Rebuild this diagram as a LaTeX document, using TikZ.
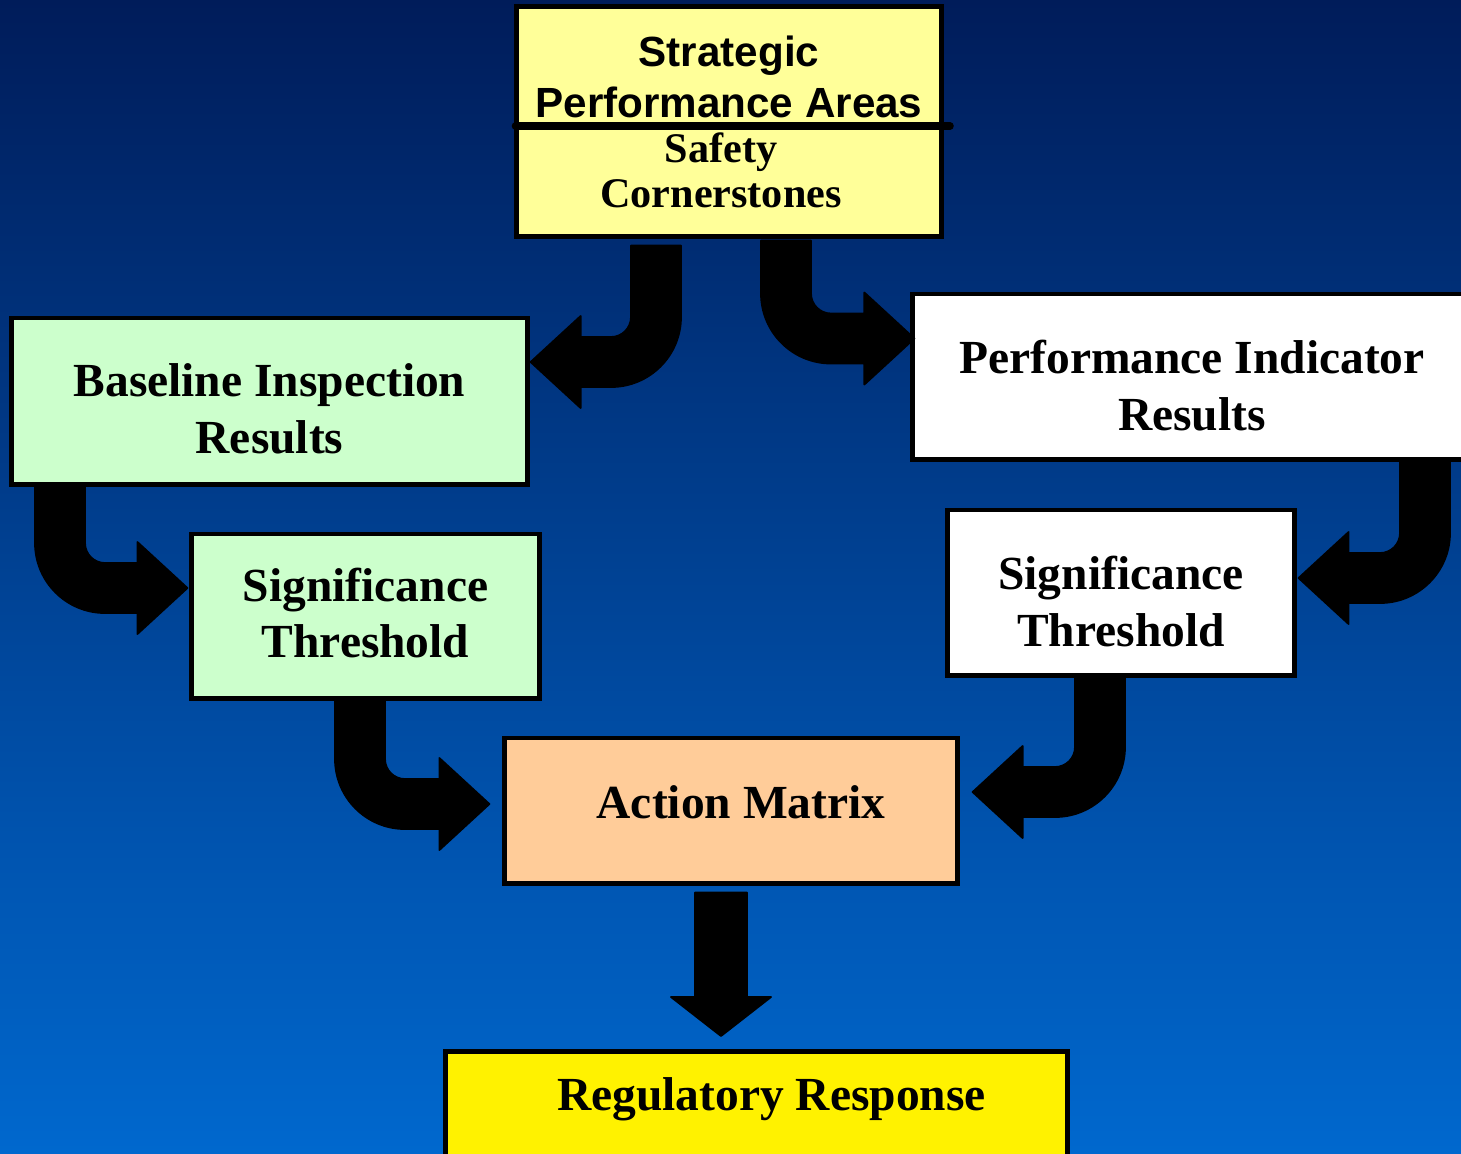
\documentclass[tikz,border=0pt]{standalone}
\usepackage{fontspec}
\setmainfont{Liberation Serif}
\newfontfamily\arialfont{Liberation Sans}
\usetikzlibrary{calc}
\definecolor{bgtop}{RGB}{0,28,90}
\definecolor{bgmid}{RGB}{0,80,165}
\definecolor{bgbot}{RGB}{0,104,206}
\definecolor{paleyellow}{RGB}{255,255,153}
\definecolor{palegreen}{RGB}{204,255,204}
\definecolor{peach}{RGB}{255,204,153}
\newcommand\shaftw{0.25cm}
\newcommand\headw{0.46cm}
\newcommand\headl{0.5cm}
\newcommand\rinner{0.2cm}
\newcommand\router{0.7cm}
\newcommand\bendarrow[2]{%
  \fill[arrowfill] let \p1=#1, \p2=#2, \n1={sign(\x2-\x1)},
      \n2={90+90*\n1}, \n3={90+180*\n1}, \n4={-90-90*\n1} in
    ({\x1+\n1*\shaftw},\y1) -- ({\x1+\n1*\shaftw},{\y2+\shaftw+\rinner})
    arc[start angle=\n2, end angle=\n3, radius=\rinner]
    -- ({\x2-\n1*\headl},{\y2+\shaftw}) -- ({\x2-\n1*\headl},{\y2+\headw})
    -- (\x2,\y2) -- ({\x2-\n1*\headl},{\y2-\headw}) -- ({\x2-\n1*\headl},{\y2-\shaftw})
    -- ({\x1-\n1*\shaftw+\n1*\router},{\y2-\shaftw})
    arc[start angle=-90, end angle=\n4, radius=\router]
    -- ({\x1-\n1*\shaftw},\y1) -- cycle;}
\newcommand\droparrow[2]{%
  \fill[arrowfill] let \p1=#1, \p2=#2 in
    ({\x1-0.26cm},\y1) -- ({\x1-0.26cm},{\y2+0.39cm}) -- ({\x1-0.5cm},{\y2+0.39cm})
    -- (\x1,\y2) -- ({\x1+0.5cm},{\y2+0.39cm}) -- ({\x1+0.26cm},{\y2+0.39cm})
    -- ({\x1+0.26cm},\y1) -- cycle;}

\begin{document}
\begin{tikzpicture}[x=0.01cm, y=-0.01cm,
    box/.style={draw=black, line width=1.4pt},
    boxtext/.style={align=center, font=\bfseries\fontsize{13.5}{16.2}\selectfont},
    arrowfill/.style={fill=black, draw=black, line width=0.5pt, line join=round}]
  \useasboundingbox (0,0) rectangle (1461,1153);
  \clip (0,0) rectangle (1461,1153);
  \shade[top color=bgtop, middle color=bgmid, bottom color=bgbot] (0,0) rectangle (1461,1153);

  \node[box, fill=paleyellow, minimum width=4.24cm, minimum height=2.29cm, align=center,
    font=\bfseries\fontsize{12}{12.8}\selectfont] (sca) at (729,121.5)
    {\arialfont Strategic\\[1.7pt]\arialfont Performance Areas\\
     Safety\rule{0.16cm}{0pt}\\Cornerstones\rule{0.16cm}{0pt}};
  \draw[line width=2.1pt, line cap=round] ($(sca.west)+(1,4.5)$) -- ($(sca.east)+(6.5,4.5)$);

  \node[box, fill=palegreen, minimum width=5.15cm, minimum height=1.66cm,
    label={[boxtext, yshift=-0.08cm]center:Baseline Inspection\\Results}] (bir) at (269.5,401) {};
  \node[box, fill=palegreen, minimum width=3.47cm, minimum height=1.64cm,
    label={[boxtext, yshift=0.03cm]center:Significance\\Threshold}] (sigl) at (365.5,616) {};
  \node[box, fill=white, minimum width=5.58cm, minimum height=1.65cm,
    label={[boxtext, yshift=-0.09cm]center:Performance Indicator\\Results}] (pir) at (1192,376.5) {};
  \node[box, fill=white, minimum width=3.46cm, minimum height=1.65cm,
    label={[boxtext, yshift=-0.09cm]center:Significance\\Threshold}] (sigr) at (1121,592.5) {};
  \node[box, fill=peach, minimum width=4.52cm, minimum height=1.45cm,
    label={[boxtext, xshift=0.1cm, yshift=0.08cm]center:Action Matrix}] (am) at (731,810.5) {};
  \node[box, fill=yellow, anchor=north, minimum width=6.21cm, minimum height=1.5cm,
    label={[boxtext, xshift=0.15cm, yshift=0.275cm]center:Regulatory Response}] (rr) at (756.5,1049) {};

  \bendarrow{($(sca.south)+(-73,7)$)}{($(bir.east)+(1,-39)$)}
  \bendarrow{($(sca.south)+(57,2)$)}{($(pir.west)+(4,-38)$)}
  \bendarrow{($(bir.south)+(-209.5,0)$)}{($(sigl.west)+(-2,-28)$)}
  \bendarrow{($(sigl.south)+(-5.5,0)$)}{($(am.west)+(-13,-6.5)$)}
  \bendarrow{($(pir.south)+(233,0)$)}{($(sigr.east)+(2,-14.5)$)}
  \bendarrow{($(sigr.south)+(-21,0)$)}{($(am.east)+(13,-18.5)$)}
  \droparrow{($(am.south)+(-10,7)$)}{($(rr.north)+(-35.5,-13)$)}
\end{tikzpicture}
\end{document}
